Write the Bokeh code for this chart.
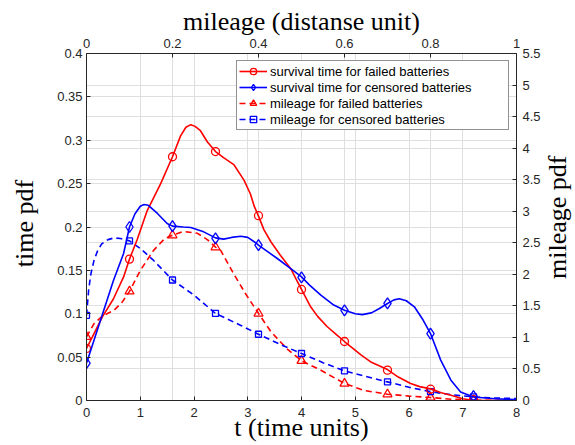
from math import pi
from bokeh.plotting import figure
from bokeh.layouts import row
from bokeh.models import (Range1d, LinearAxis, FixedTicker, Grid, Legend, LegendItem,
                          CustomJSTickFormatter)
from bokeh.core.properties import value
from bokeh.embed import file_html
from bokeh.resources import INLINE

# ---------------- tick values ----------------
t_ticks = [0, 1, 2, 3, 4, 5, 6, 7, 8]
time_pdf_ticks = [0, 0.05, 0.1, 0.15, 0.2, 0.25, 0.3, 0.35, 0.4]
mil_ticks = [0, 0.2, 0.4, 0.6, 0.8, 1]
mil_pdf_ticks = [0, 0.5, 1, 1.5, 2, 2.5, 3, 3.5, 4, 4.5, 5, 5.5]

# ---------------- marker data ----------------
t_marks = [0, 0.8, 1.6, 2.4, 3.2, 4.0, 4.8, 5.6, 6.4, 7.2]
fail_time_marks = [0.060, 0.163, 0.281, 0.287, 0.213, 0.128, 0.068, 0.035, 0.013, 0.001]
cens_time_marks = [0.043, 0.200, 0.201, 0.187, 0.179, 0.142, 0.104, 0.112, 0.077, 0.005]

mil_marks = [0, 0.1, 0.2, 0.3, 0.4, 0.5, 0.6, 0.7, 0.8, 0.9]
fail_mil_marks = [1.01, 1.73, 2.62, 2.43, 1.38, 0.63, 0.27, 0.10, 0.047, 0.005]
cens_mil_marks = [1.35, 2.53, 1.91, 1.38, 1.05, 0.745, 0.47, 0.295, 0.14, 0.057]

# ---------------- curve data ----------------
fail_time_t = [0, 0.14, 0.3, 0.5, 0.69, 0.8, 0.94, 1.13, 1.38, 1.6, 1.75, 1.85, 1.94, 2.02,
               2.12, 2.25, 2.4, 2.55, 2.74, 2.93, 3.05, 3.12, 3.2, 3.3, 3.43, 3.6, 3.8, 3.9,
               4.0, 4.17, 4.3, 4.48, 4.65, 4.8, 5.1, 5.3, 5.6, 5.8, 6.03, 6.2, 6.4, 6.6,
               6.78, 7.0, 7.2, 7.6, 8.0]
fail_time_pdf = [0.060, 0.077, 0.097, 0.117, 0.1425, 0.163, 0.185, 0.219, 0.250, 0.281, 0.305,
                 0.315, 0.318, 0.316, 0.311, 0.298, 0.287, 0.280, 0.272, 0.254, 0.238, 0.224,
                 0.2125, 0.197, 0.183, 0.168, 0.152, 0.140, 0.128, 0.108, 0.097, 0.085, 0.076,
                 0.068, 0.053, 0.044, 0.0357, 0.027, 0.0196, 0.016, 0.0134, 0.009, 0.006,
                 0.002, 0.0, 0.0, 0.0]

cens_time_t = [0, 0.3, 0.5, 0.69, 0.8, 0.9, 1.0, 1.07, 1.15, 1.32, 1.5, 1.6, 1.8, 1.94, 2.18,
               2.4, 2.55, 2.7, 2.87, 3.0, 3.12, 3.2, 3.55, 3.8, 4.0, 4.15, 4.36, 4.6, 4.8, 5.0,
               5.13, 5.3, 5.45, 5.6, 5.72, 5.82, 5.95, 6.1, 6.25, 6.4, 6.59, 6.78, 6.96, 7.2,
               7.6, 8.0]
cens_time_pdf = [0.043, 0.100, 0.138, 0.1695, 0.200, 0.215, 0.224, 0.226, 0.225, 0.2156, 0.204,
                 0.201, 0.200, 0.1994, 0.1944, 0.1875, 0.186, 0.188, 0.1894, 0.188, 0.183,
                 0.179, 0.1637, 0.152, 0.1425, 0.133, 0.1214, 0.110, 0.104, 0.100, 0.099,
                 0.101, 0.106, 0.1118, 0.116, 0.1172, 0.115, 0.108, 0.094, 0.0772, 0.0465,
                 0.0234, 0.0099, 0.004, 0.002, 0.001]

fail_mil_x = [0, 0.0175, 0.0375, 0.064, 0.083, 0.1, 0.125, 0.156, 0.181, 0.2, 0.226, 0.258,
              0.281, 0.3, 0.312, 0.343, 0.371, 0.4, 0.429, 0.466, 0.5, 0.545, 0.6, 0.645, 0.7,
              0.75, 0.8, 0.85, 0.9, 1.0]
fail_mil_pdf = [1.01, 1.22, 1.34, 1.43, 1.56, 1.73, 2.06, 2.38, 2.56, 2.62, 2.68, 2.65, 2.55,
                2.43, 2.38, 2.0, 1.68, 1.38, 1.09, 0.82, 0.63, 0.48, 0.27, 0.16, 0.10, 0.07,
                0.047, 0.02, 0.005, 0.0]

cens_mil_x = [0, 0.005, 0.01, 0.0175, 0.025, 0.035, 0.05, 0.064, 0.079, 0.1, 0.125, 0.156,
              0.2, 0.25, 0.3, 0.359, 0.4, 0.45, 0.5, 0.55, 0.6, 0.65, 0.7, 0.75, 0.8, 0.85,
              0.9, 0.95, 1.0]
cens_mil_pdf = [1.35, 1.75, 2.0, 2.22, 2.36, 2.48, 2.55, 2.577, 2.567, 2.53, 2.41, 2.22, 1.91,
                1.67, 1.38, 1.19, 1.05, 0.89, 0.745, 0.60, 0.47, 0.38, 0.295, 0.21, 0.14,
                0.09, 0.057, 0.04, 0.03]

labels = ["survival time for failed batteries",
          "survival time for censored batteries",
          "mileage for failed batteries",
          "mileage for censored batteries"]
left_title = "time pdf"
right_title = "mileage pdf"
bottom_title = "t (time units)"
top_title = "mileage (distanse unit)"

AX = "#262626"
GRID = "#dfdfdf"
SANS = "Liberation Sans"
SERIF = "Liberation Serif"
H = 445
LW_FIG, RW_FIG = 40, 32          # widths of the side strips holding the vertical titles
MAIN_W = 575 - LW_FIG - RW_FIG

main = figure(width=MAIN_W, height=H, x_range=Range1d(0, 8), y_range=Range1d(0, 0.4),
              x_axis_type=None, y_axis_type=None,
              output_backend="svg", toolbar_location=None,
              min_border_left=86 - LW_FIG, min_border_right=27, min_border_top=53,
              min_border_bottom=45)
main.outline_line_color = None
main.background_fill_color = "white"
main.border_fill_color = "white"

main.extra_x_ranges = {"mil": Range1d(0, 1)}
main.extra_y_ranges = {"mpdf": Range1d(0, 5.5)}

fmt_code = "return Number(tick.toFixed(4)).toString();"

# (side, x range, y range, ticks, tick-label standoff, title, title standoff)
axis_specs = [("below", "default", "default", t_ticks, 7, bottom_title, -7),
              ("left", "default", "default", time_pdf_ticks, 4, None, 0),
              ("above", "mil", "default", mil_ticks, 6, top_title, 0),
              ("right", "default", "mpdf", mil_pdf_ticks, 6, None, 0)]
for side, xr, yr, ticks, stand, title, tstand in axis_specs:
    ax = LinearAxis(x_range_name=xr, y_range_name=yr)
    ax.ticker = FixedTicker(ticks=ticks)
    ax.formatter = CustomJSTickFormatter(code=fmt_code)
    ax.axis_line_color = AX
    ax.axis_line_width = 1
    ax.major_tick_line_color = AX
    ax.major_tick_in = 4
    ax.major_tick_out = 0
    ax.minor_tick_line_color = None
    ax.major_label_text_font = SANS
    ax.major_label_text_font_size = "13px"
    ax.major_label_text_color = AX
    ax.major_label_standoff = stand
    if title:
        ax.axis_label = title
        ax.axis_label_text_font = SERIF
        ax.axis_label_text_font_size = "26px"
        ax.axis_label_text_font_style = "normal"
        ax.axis_label_text_color = "black"
        ax.axis_label_standoff = tstand
    main.add_layout(ax, side)

# grids (time axes and mileage axes)
grid_specs = [(0, t_ticks, "default", "default"), (1, time_pdf_ticks, "default", "default"),
              (0, mil_ticks, "mil", "default"), (1, mil_pdf_ticks, "default", "mpdf")]
for dim, ticks, xr, yr in grid_specs:
    main.add_layout(Grid(dimension=dim, ticker=FixedTicker(ticks=ticks), x_range_name=xr,
                         y_range_name=yr, grid_line_color=GRID, grid_line_width=1))

RED = "#ff0000"
BLUE = "#0000ff"
LW = 1.6

# mileage (dashed) series
l3 = main.line(fail_mil_x, fail_mil_pdf, color=RED, line_width=LW, line_dash="6 4",
               x_range_name="mil", y_range_name="mpdf")
s3 = main.scatter(mil_marks, fail_mil_marks, marker="triangle", size=9, line_color=RED,
                  fill_color=None, line_width=1.3, x_range_name="mil", y_range_name="mpdf")
l4 = main.line(cens_mil_x, cens_mil_pdf, color=BLUE, line_width=LW, line_dash="6 4",
               x_range_name="mil", y_range_name="mpdf")
s4 = main.scatter(mil_marks, cens_mil_marks, marker="square", size=6, line_color=BLUE,
                  fill_color=None, line_width=1.3, x_range_name="mil", y_range_name="mpdf")

# time (solid) series
l1 = main.line(fail_time_t, fail_time_pdf, color=RED, line_width=LW)
s1 = main.scatter(t_marks, fail_time_marks, marker="circle", size=8, line_color=RED,
                  fill_color=None, line_width=1.3)
l2 = main.line(cens_time_t, cens_time_pdf, color=BLUE, line_width=LW)
s2 = main.scatter(t_marks, cens_time_marks, marker="diamond", size=11, line_color=BLUE,
                  fill_color=None, line_width=1.3)

legend = Legend(items=[LegendItem(label=labels[0], renderers=[l1, s1]),
                       LegendItem(label=labels[1], renderers=[l2, s2]),
                       LegendItem(label=labels[2], renderers=[l3, s3]),
                       LegendItem(label=labels[3], renderers=[l4, s4])],
                location="top_right")
legend.margin = 7
legend.padding = 2
legend.spacing = 0
legend.glyph_width = 28
legend.glyph_height = 16
legend.label_height = 16
legend.label_width = 236
legend.label_standoff = 3
legend.label_text_font = SANS
legend.label_text_font_size = "13px"
legend.label_text_color = "black"
legend.border_line_color = AX
legend.border_line_width = 1
legend.background_fill_color = "white"
legend.background_fill_alpha = 1
main.add_layout(legend, "center")


def title_strip(width, text, mid_x, center_y_from_top):
    """Narrow strip (pixel coordinates) carrying a vertical, bottom-to-top title."""
    f = figure(width=width, height=H, x_range=Range1d(0, width), y_range=Range1d(0, H),
               x_axis_type=None, y_axis_type=None, output_backend="svg",
               toolbar_location=None, min_border=0)
    f.outline_line_color = None
    f.grid.visible = False
    f.background_fill_color = "white"
    f.border_fill_color = "white"
    f.text(x=[mid_x], y=[H - center_y_from_top], text=[text], angle=pi / 2,
           text_font=value(SERIF), text_font_size="26px", text_color="black",
           text_align="center", text_baseline="middle")
    return f


left_strip = title_strip(LW_FIG, left_title, 24, 218)
right_strip = title_strip(RW_FIG, right_title, 557 - (575 - RW_FIG), 210)

p = row(left_strip, main, right_strip, spacing=0)

open("out.html", "w").write(file_html(p, INLINE))
